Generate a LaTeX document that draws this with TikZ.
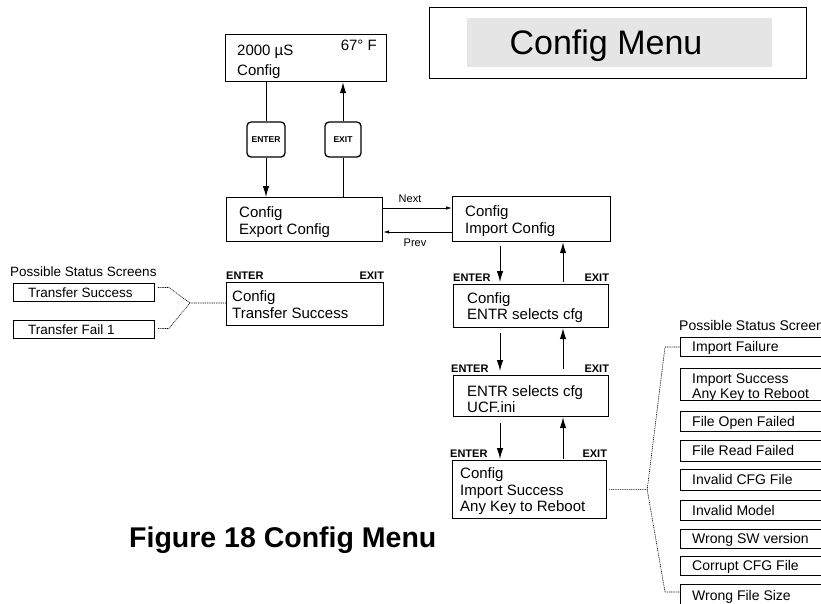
\documentclass[tikz,border=0pt]{standalone}
\usepackage{fontspec}
\setmainfont{Liberation Sans}
\usetikzlibrary{arrows.meta,calc}
\newcommand\mystatus[4]{%
  \node[stbox, minimum height=#3] (#1) at (680,#2) {};
  \node[sttxt, anchor=west] (#1t) at ($(#1.west)+(12,0)$) {#4};}
\begin{document}
\begin{tikzpicture}[x=1pt,y=-1pt,
  scr/.style={draw, line width=1.2pt, anchor=north west, inner sep=0pt},
  bt/.style={font=\fontsize{15}{16.5}\selectfont, inner sep=0pt, align=left},
  btskip/.style={font=\fontsize{15}{#1}\selectfont},
  keylbl/.style={font=\bfseries\fontsize{11}{12}\selectfont, inner sep=0pt},
  keybtn/.style={draw, line width=1.3pt, rounded corners=4pt, fill=white, inner sep=0pt, font=\bfseries\fontsize{8.5}{9}\selectfont},
  arr/.style={line width=1pt, -{Latex[length=11pt,width=6.5pt]}},
  sarr/.style={line width=0.8pt, -{Latex[length=6pt,width=3.5pt]}},
  stbox/.style={draw, line width=0.9pt, anchor=north west, inner sep=0pt, minimum width=160pt},
  sttxt/.style={font=\fontsize{14}{15}\selectfont, inner sep=0pt, text height=10pt, text depth=0pt},
  dots/.style={line width=0.6pt, dash pattern=on 1pt off 0.8pt},
  small/.style={font=\fontsize{11}{12}\selectfont, inner sep=0pt}
]
\useasboundingbox (0,0) rectangle (821,603);
\begin{scope}
\clip (0,0) rectangle (821,603);

% title
\node[draw, line width=1.2pt, anchor=north west, minimum width=377pt, minimum height=71pt, inner sep=0pt] (menuframe) at (429,7) {};
\node[fill=gray!20, anchor=north west, minimum width=305pt, minimum height=49pt, inner sep=0pt] (menufill) at (467,18) {};
\node[font=\fontsize{34}{40}\selectfont, anchor=base, inner sep=0pt] (menutitle) at (606,54) {Config Menu};

% caption
\node[font=\bfseries\fontsize{28.5}{34}\selectfont, anchor=base west, inner sep=0pt] (caption) at (129,547) {Figure 18 Config Menu};

% top box
\node[scr, minimum width=161pt, minimum height=47pt] (top) at (225,34) {};
\node[bt, anchor=base west] (toptxt1) at (237,55) {2000 µS};
\node[bt, anchor=base east] (toptxt2) at (377,50) {67° F};
\node[bt, anchor=base west] (toptxt3) at (237,75) {Config};

% keys
\node[keybtn, minimum width=38pt, minimum height=35pt] (enterkey) at (266,139.5) {ENTER};
\node[keybtn, minimum width=36pt, minimum height=35pt] (exitkey) at (343,139.5) {EXIT};

% export / import (base anchor = last line)
\node[scr, minimum width=156pt, minimum height=44pt] (export) at (226,197) {};
\node[bt, btskip=17, anchor=base west] (exporttxt) at ($(export.north west)+(13,37)$) {Config\\Export Config};
\node[scr, minimum width=158pt, minimum height=45pt] (import) at (452,196) {};
\node[bt, btskip=17, anchor=base west] (importtxt) at ($(import.north west)+(13,37)$) {Config\\Import Config};

\draw[line width=1pt] (top.south -| enterkey) -- (enterkey.north);
\draw[arr] (enterkey.south) -- (export.north -| enterkey);
\draw[line width=1pt] (export.north -| exitkey) -- (exitkey.south);
\draw[arr] (exitkey.north) -- (top.south -| exitkey);

\coordinate (nexty) at (0,208);
\coordinate (prevy) at (0,232);
\draw[sarr] (export.east |- nexty) -- (import.west |- nexty);
\draw[sarr] (import.west |- prevy) -- (export.east |- prevy);
\node[small, anchor=base] (nextlbl) at (410,202) {Next};
\node[small, anchor=base] (prevlbl) at (415,246) {Prev};

% transfer
\node[scr, minimum width=157pt, minimum height=43pt] (transfer) at (226,282) {};
\node[bt, btskip=16.5, anchor=base west] (transfertxt) at ($(transfer.north west)+(6,36)$) {Config\\Transfer Success};
\node[keylbl, anchor=base west] (trenter) at ($(transfer.north west)+(0,-3)$) {ENTER};
\node[keylbl, anchor=base east] (trexit) at ($(transfer.north east)+(0,-3)$) {EXIT};

% left status
\node[font=\fontsize{13.5}{15}\selectfont, anchor=base west, inner sep=0pt] (lposs) at (10,276) {Possible Status Screens};
\node[stbox, minimum width=141pt, minimum height=18pt] (ls1) at (13,283) {};
\node[sttxt, font=\fontsize{13.5}{15}\selectfont, anchor=west] (ls1t) at ($(ls1.west)+(15,0)$) {Transfer Success};
\node[stbox, minimum width=141pt, minimum height=18pt] (ls2) at (13,320) {};
\node[sttxt, font=\fontsize{13.5}{15}\selectfont, anchor=west] (ls2t) at ($(ls2.west)+(15,0)$) {Transfer Fail 1};
\coordinate (ljoin) at (190,303);
\draw[dots] ($(ls1.east)+(3,-5)$) -- ++(11,0) -- (ljoin) -- (transfer.west |- ljoin);
\draw[dots] ($(ls2.east)+(3,-1)$) -- ++(11,0) -- (ljoin);

% import chain
\node[scr, minimum width=155pt, minimum height=43pt] (entr) at (453,284) {};
\node[bt, btskip=16, anchor=base west] (entrtxt) at ($(entr.north west)+(14,35)$) {Config\\ENTR selects cfg};
\node[scr, minimum width=155pt, minimum height=41pt] (ucf) at (453,375) {};
\node[bt, btskip=16, anchor=base west] (ucftxt) at ($(ucf.north west)+(14,37)$) {ENTR selects cfg\\UCF.ini};
\node[scr, minimum width=154pt, minimum height=58pt] (success) at (452,460) {};
\node[bt, btskip=16.3, anchor=base west] (successtxt) at ($(success.north west)+(8,51.5)$) {Config\\Import Success\\Any Key to Reboot};

\node[keylbl, anchor=base west] (enenter) at ($(entr.north west)+(0,-3)$) {ENTER};
\node[keylbl, anchor=base east] (enexit) at ($(entr.north east)+(0,-3)$) {EXIT};
\node[keylbl, anchor=base west] (ucenter) at ($(ucf.north west)+(-2,-3)$) {ENTER};
\node[keylbl, anchor=base east] (ucexit) at ($(ucf.north east)+(0,-3)$) {EXIT};
\node[keylbl, anchor=base west] (suenter) at ($(success.north west)+(-2,-3)$) {ENTER};
\node[keylbl, anchor=base east] (suexit) at ($(success.north east)+(0,-3)$) {EXIT};

\coordinate (dnx) at (500,0);
\coordinate (upx) at (563,0);
\draw[arr] ($(import.south -| dnx)+(0,4)$) -- ($(entr.north -| dnx)+(0,-2)$);
\draw[arr] ($(entr.north -| upx)+(0,-2)$) -- (import.south -| upx);
\draw[arr] ($(entr.south -| dnx)+(0,5)$) -- ($(ucf.north -| dnx)+(0,-4)$);
\draw[arr] ($(ucf.north -| upx)+(0,-6)$) -- (entr.south -| upx);
\draw[arr] ($(ucf.south -| dnx)+(0,6)$) -- ($(success.north -| dnx)+(0,-1)$);
\draw[arr] ($(success.north -| upx)+(0,-1)$) -- (ucf.south -| upx);

% right status
\node[font=\fontsize{14}{15}\selectfont, anchor=base west, inner sep=0pt] (rposs) at (679,330) {Possible Status Screens};
\mystatus{rs1}{337}{19pt}{Import Failure}
\node[stbox, minimum height=32pt] (rs2) at (680,368) {};
\node[font=\fontsize{14}{15}\selectfont, inner sep=0pt, align=left, anchor=base west] (rs2t) at ($(rs2.north west)+(12,30)$) {Import Success\\Any Key to Reboot};
\mystatus{rs3}{411}{20pt}{File Open Failed}
\mystatus{rs4}{440}{21pt}{File Read Failed}
\mystatus{rs5}{469}{21pt}{Invalid CFG File}
\mystatus{rs6}{500}{20pt}{Invalid Model}
\mystatus{rs7}{529}{19pt}{Wrong SW version}
\mystatus{rs8}{556}{19pt}{Corrupt CFG File}
\mystatus{rs9}{584}{22pt}{Wrong File Size}

\coordinate (rjoin) at ($(success.east)+(40,0)$);
\draw[dots] ($(success.east)+(2,0)$) -- (rjoin) -- ($(rs1.west)+(-15,0)$) -- (rs1.west);
\draw[dots] (rjoin) -- ($(rs9.north west)+(-15,8)$) -- ($(rs9.north west)+(0,8)$);
\end{scope}
\end{tikzpicture}
\end{document}
